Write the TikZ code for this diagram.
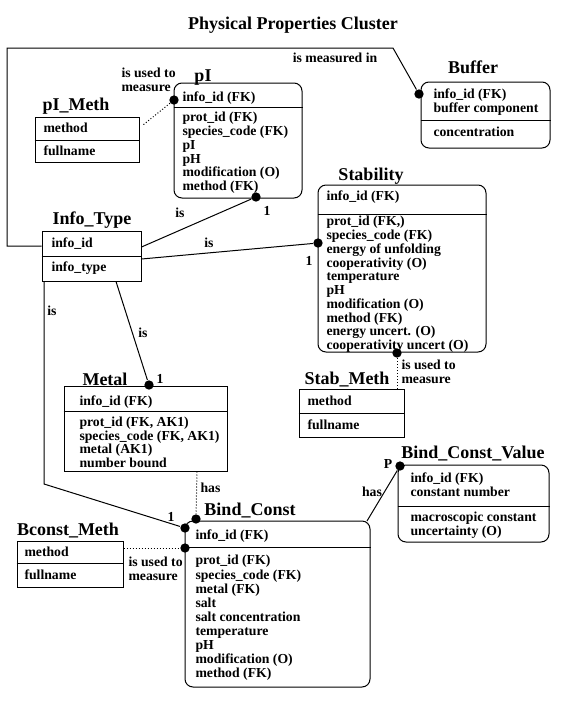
\documentclass[tikz,border=0pt]{standalone}
\usepackage{fontspec}
\setmainfont{Liberation Serif}

\begin{document}
\begin{tikzpicture}[x=0.75pt,y=-0.75pt,line width=0.75pt]
  \tikzset{ebox/.style 2 args={draw,inner sep=0,minimum width=#1*0.75pt,minimum height=#2*0.75pt},
    rbox/.style 2 args={ebox={#1}{#2},rounded corners=6pt},
    ttl/.style={font=\fontsize{13.5}{14}\selectfont\bfseries,inner sep=0,anchor=base},
    txt/.style={font=\fontsize{10.3}{10.3}\selectfont\bfseries,inner sep=0,align=left,anchor=base west},
    lbl/.style={font=\fontsize{10.3}{10.3}\selectfont\bfseries,inner sep=0,anchor=base},
    dot/.style={circle,fill,inner sep=0,minimum size=7pt},
    usedby/.style={dash pattern=on 0.75pt off 1.5pt}};
  \useasboundingbox (0,0) rectangle (577,715);
  \node[ttl] (title) at (293,29) {Physical Properties Cluster};
  % tables
  \node[rbox={128}{115}] (pI) at (238,140.5) {};
  \node[ebox={104}{45}] (pIMeth) at (87,139.5) {};
  \node[rbox={129}{66}] (Buf) at (485.5,115) {};
  \node[ebox={99}{50}] (Info) at (91.5,256) {};
  \node[rbox={168}{167}] (Stab) at (402,268.5) {};
  \node[ebox={105}{48}] (StabMeth) at (351.5,413) {};
  \node[ebox={163}{85}] (Metal) at (145.5,428.5) {};
  \node[ebox={106}{46}] (BcMeth) at (70,564) {};
  \node[rbox={185}{166}] (BindC) at (277.5,604) {};
  \node[rbox={151}{77}] (BindCV) at (473.5,503.5) {};
  \draw (pI.west |- 0,107) -- (pI.east |- 0,107);
  \draw (pIMeth.west |- 0,140) -- (pIMeth.east |- 0,140);
  \draw (Buf.west |- 0,120) -- (Buf.east |- 0,120);
  \draw (Info.west |- 0,256) -- (Info.east |- 0,256);
  \draw (Stab.west |- 0,214) -- (Stab.east |- 0,214);
  \draw (StabMeth.west |- 0,413) -- (StabMeth.east |- 0,413);
  \draw (Metal.west |- 0,411) -- (Metal.east |- 0,411);
  \draw (BcMeth.west |- 0,563) -- (BcMeth.east |- 0,563);
  \draw (BindC.west |- 0,547) -- (BindC.east |- 0,547);
  \draw (BindCV.west |- 0,506) -- (BindCV.east |- 0,506);
  % titles
  \node[ttl] (pIT) at (203,81) {pI};
  \node[ttl] (pIMethT) at (76,110) {pI\_Meth};
  \node[ttl] (BufT) at (473,73) {Buffer};
  \node[ttl] (InfoT) at (92,224) {Info\_Type};
  \node[ttl] (StabT) at (371,180) {Stability};
  \node[ttl] (StabMethT) at (347,384) {Stab\_Meth};
  \node[ttl] (MetalT) at (105,385) {Metal};
  \node[ttl] (BcMethT) at (68,535) {Bconst\_Meth};
  \node[ttl] (BindCT) at (250,515) {Bind\_Const};
  \node[ttl] (BindCVT) at (473,458) {Bind\_Const\_Value};
  % columns (multi-line nodes sit on their last line)
  \node[txt] (pIk) at (182,101.5) {info\_id (FK)};
  \node[txt] (pIa) at (182,190.5) {prot\_id (FK)\\species\_code (FK)\\pI\\pH\\modification (O)\\method (FK)};
  \node[txt] (pIMa) at (43,132.5) {method};
  \node[txt] (pIMb) at (43,155.5) {fullname};
  \node[txt] (Bufk) at (433,112.5) {info\_id (FK)\\buffer component};
  \node[txt] (Bufa) at (433,136.5) {concentration};
  \node[txt] (Infok) at (51,247.5) {info\_id};
  \node[txt] (Infoa) at (51,271.5) {info\_type};
  \node[txt] (Stabk) at (326,200.5) {info\_id (FK)};
  \node[txt] (Staba) at (326,349.5) {prot\_id (FK,)\\species\_code (FK)\\energy of unfolding\\cooperativity (O)\\temperature\\pH\\modification (O)\\method (FK)\\energy uncert. (O)\\cooperativity uncert (O)};
  \node[txt] (SMa) at (307,405.5) {method};
  \node[txt] (SMb) at (307,429.5) {fullname};
  \node[txt] (Metalk) at (79,405.5) {info\_id (FK)};
  \node[txt] (Metala) at (79,467.5) {prot\_id (FK, AK1)\\species\_code (FK, AK1)\\metal (AK1)\\number bound};
  \node[txt] (BMa) at (24,556.5) {method};
  \node[txt] (BMb) at (24,579.5) {fullname};
  \node[txt] (BindCk) at (195,539.5) {info\_id (FK)};
  \node[txt,font=\fontsize{10.3}{10.55}\selectfont\bfseries] (BindCa) at (195,677.5) {prot\_id (FK)\\species\_code (FK)\\metal (FK)\\salt\\salt concentration\\temperature\\pH\\modification (O)\\method (FK)};
  \node[txt] (BindCVk) at (410,496.5) {info\_id (FK)\\constant number};
  \node[txt] (BindCVa) at (410,535.5) {macroscopic constant\\uncertainty (O)};
  % dots
  \node[dot] (pIdot) at (174,100) {};
  \node[dot] (pIbot) at (256,197) {};
  \node[dot] (bufdot) at (419,94) {};
  \node[dot] (stabL) at (318,243) {};
  \node[dot] (stabB) at (397,353) {};
  \node[dot] (metaldot) at (149,385) {};
  \node[dot] (bcA) at (185,528) {};
  \node[dot] (bcB) at (185,548) {};
  \node[dot] (bcTop) at (196,519) {};
  \node[dot] (bcvdot) at (400,466) {};
  \coordinate (pIMethEnd) at (143,125);
  \coordinate (bcCorner) at (367,521);
  % relations
  \draw (Info.west |- 0,246) -| (7,48) -- (393,48) -- (bufdot);
  \node[lbl] (lMeas) at (335,62) {is measured in};
  \draw (Info.east |- 0,247) -- (pIbot);
  \node[lbl] (lIs1) at (180,217) {is};
  \node[lbl] (lOne1) at (267,215) {1};
  \draw (Info.east |- 0,259) -- (stabL);
  \node[lbl] (lIs2) at (209,247) {is};
  \node[lbl] (lOne2) at (309,265) {1};
  \draw (Info.south -| 116,0) -- (metaldot);
  \node[lbl] (lIs3) at (143,337) {is};
  \node[lbl] (lOne3) at (160,383) {1};
  \draw (Info.south -| 44,0) -- (44,484) -- (bcA);
  \node[lbl] (lIs4) at (52,315) {is};
  \node[lbl] (lOne4) at (171,521) {1};
  \draw[usedby] (pIdot) -- (pIMethEnd);
  \node[txt] (lUse1) at (121,91) {is used to\\measure};
  \draw[usedby] (stabB) -- (StabMeth.north -| stabB);
  \node[txt] (lUse2) at (401,383.5) {is used to\\measure};
  \draw[usedby] (Metal.south -| 197,0) -- (bcTop);
  \node[txt] (lHas1) at (200,492) {has};
  \draw[usedby] (BcMeth.east |- bcB) -- (bcB);
  \node[txt] (lUse3) at (128,580.5) {is used to\\measure};
  \draw (bcCorner) -- (bcvdot);
  \node[lbl] (lHas2) at (372,496) {has};
  \node[lbl] (lP) at (388,468) {P};
\end{tikzpicture}
\end{document}
